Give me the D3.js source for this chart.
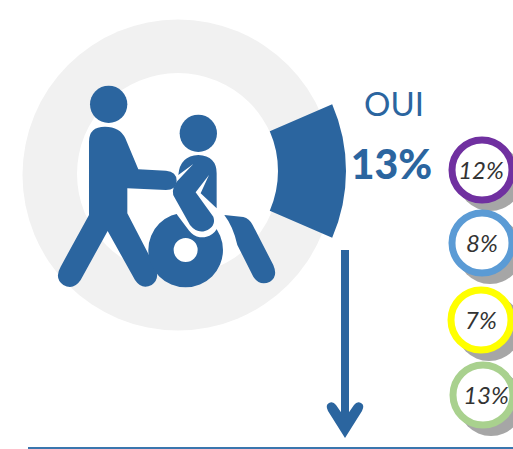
<!DOCTYPE html>
<html><head><meta charset="utf-8">
<script src="https://cdn.jsdelivr.net/npm/d3@7"></script>
<style>html,body{margin:0;padding:0;background:#fff;overflow:hidden}svg{display:block}</style>
</head><body><svg id="c" width="513" height="449"></svg>
<script>
const donutLabels = ["OUI", "NON"];
const donutValues = [13, 87];
const bubbleLabels = ["12%", "8%", "7%", "13%"];
const bubbleValues = [12, 8, 7, 13];
const bubbleColors = ["#7030A0", "#5B9BD5", "#FFFF00", "#A9D18E"];
const BLUE = "#2B659F";

const svg = d3.select("#c");
const cx = 178, cy = 175;

// donut
svg.append("circle").attr("cx",cx).attr("cy",cy).attr("r",155.5).attr("fill","#F1F1F1");
svg.append("circle").attr("cx",cx).attr("cy",cy-1).attr("r",101).attr("fill","#fff");
const start = 66.6 * Math.PI/180;
const pie = d3.pie().sort(null).startAngle(start).endAngle(start + 2*Math.PI);
const arc = d3.arc().innerRadius(100).outerRadius(168);
svg.append("g").attr("transform",`translate(${cx},171)`)
  .selectAll("path").data(pie(donutValues).slice(0,1)).join("path")
  .attr("d",arc).attr("fill",BLUE);

// pictogram (drawn in zoomed coordinates)
const icon = svg.append("g").attr("transform","translate(40,70) scale(0.3333)");
icon.append("circle").attr("cx",206).attr("cy",103).attr("r",56).attr("fill",BLUE);
icon.append("path").attr("fill",BLUE).attr("d",
 "M147,215 Q147,170 195,170 Q240,170 256,205 L295,298 L378,302 Q410,305 410,332 Q408,360 378,360 L262,355 L262,430 L345,590 Q362,625 335,645 Q305,660 285,630 L203,483 L122,630 Q100,662 70,645 Q42,625 62,590 L147,435 Z");
icon.append("circle").attr("cx",475).attr("cy",190).attr("r",56).attr("fill",BLUE);
// wheel
icon.append("path").attr("fill",BLUE).attr("fill-rule","evenodd").attr("d",
 "M325,540 A112,112 0 1 1 549,540 A112,112 0 1 1 325,540 Z M401,540 A36,36 0 1 0 473,540 A36,36 0 1 0 401,540 Z");
// white outline around seated figure's thigh
icon.append("path").attr("fill","none").attr("stroke","#fff").attr("stroke-width",100)
  .attr("stroke-linecap","round").attr("d","M452,405 L487,452");
icon.append("path").attr("fill","none").attr("stroke","#fff").attr("stroke-width",26)
  .attr("d","M540,425 Q575,470 597,545");
// seated torso + thigh
icon.append("path").attr("fill",BLUE).attr("d",
 "M415,315 Q420,257 475,255 Q530,258 530,310 L530,415 L482,370 L507,315 L467,367 L520,440 Q530,470 495,483 Q470,490 450,465 L405,385 Q390,365 410,335 L460,282 Z");
// chair
icon.append("path").attr("fill",BLUE).attr("d",
 "M553,435 L610,441 Q628,445 638,465 L700,585 Q715,620 690,635 Q660,650 640,620 L592,525 Q580,470 553,435 Z");

// main labels
svg.append("text").attr("x",394).attr("y",116).attr("text-anchor","middle")
  .attr("font-family","Lato,sans-serif").attr("font-size",33).attr("fill",BLUE)
  .text(donutLabels[0]);
svg.append("text").attr("x",391.5).attr("y",179).attr("text-anchor","middle")
  .attr("font-family","Lato,sans-serif").attr("font-weight",900).attr("font-size",41).attr("fill",BLUE)
  .text(donutValues[0]+"%");

// bubbles
const bubbleX = [482, 482, 481, 483];
const bubbleY = [170, 243, 320, 395];
const labelDx = [-1, 0, 0, 3];
const b = svg.append("g").selectAll("g").data(bubbleValues).join("g")
  .attr("transform",(d,i)=>`translate(${bubbleX[i]},${bubbleY[i]})`);
b.append("circle").attr("cx",8).attr("cy",8).attr("r",33).attr("fill","#A6A6A6");
b.append("circle").attr("r",30).attr("fill","#fff").attr("stroke",(d,i)=>bubbleColors[i]).attr("stroke-width",7);
b.append("text").attr("x",(d,i)=>labelDx[i]).attr("y",8.5).attr("text-anchor","middle")
  .attr("font-family","Lato,sans-serif").attr("font-style","italic").attr("font-size",24)
  .attr("fill","#333").text((d,i)=>bubbleLabels[i]);

// arrow
svg.append("line").attr("x1",345).attr("x2",345).attr("y1",250).attr("y2",430).attr("stroke",BLUE).attr("stroke-width",8);
svg.append("path").attr("fill",BLUE).attr("d",
 "M345,438 L328,411 Q325,405 329,403 Q333,401 336,405 L345,418 L354,405 Q357,401 361,403 Q365,405 362,411 Z");
// baseline
svg.append("line").attr("x1",28).attr("x2",513).attr("y1",448).attr("y2",448).attr("stroke","#3A76AE").attr("stroke-width",2);
</script></body></html>
